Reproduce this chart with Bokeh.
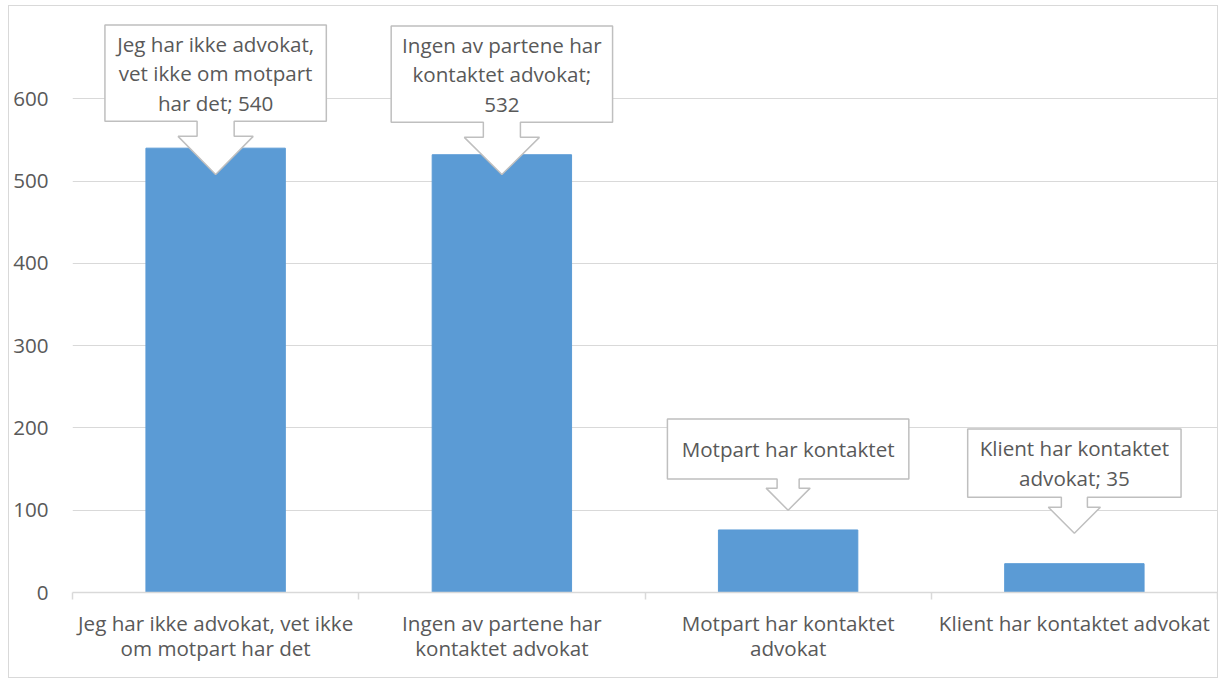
import numpy as np
from bokeh.plotting import figure
from bokeh.models import Range1d, FixedTicker
from bokeh.core.properties import value
from bokeh.embed import file_html
from bokeh.resources import INLINE

# ---- data ----
categories = [
    "Jeg har ikke advokat, vet ikke om motpart har det",
    "Ingen av partene har kontaktet advokat",
    "Motpart har kontaktet advokat",
    "Klient har kontaktet advokat",
]
tick_labels = [
    "Jeg har ikke advokat, vet ikke\nom motpart har det",
    "Ingen av partene har\nkontaktet advokat",
    "Motpart har kontaktet\nadvokat",
    "Klient har kontaktet advokat",
]
counts = [540, 532, 76, 35]
y_ticks = [0, 100, 200, 300, 400, 500, 600]

callout_text = [
    f"Jeg har ikke advokat,\nvet ikke om motpart\nhar det; {counts[0]}",
    f"Ingen av partene har\nkontaktet advokat;\n{counts[1]}",
    "Motpart har kontaktet",
    f"Klient har kontaktet\nadvokat; {counts[3]}",
]

# ---- callout layout (tip value in data units, geometry in px) ----
callout_tip = [508, 508, 100, 72]
callout_w = [221, 221, 241, 213]
callout_top = [149, 148, 91, 104]
callout_bot = [53, 52, 31, 36]
callout_stem = [18.5, 18.5, 11, 13]
callout_wingy = [38, 37, 22, 26]
callout_wing = [37.5, 37.5, 22, 26]

TEXT = "#595959"
GRID = "#d9d9d9"
FONT = "Open Sans"
FS = "20.6px"

W, H = 1210, 673
ML, MR, MT, MB = 63, 2, 10, 87
YMAX = 700
n = len(categories)

p = figure(width=W, height=H, output_backend="svg", toolbar_location=None,
           x_range=Range1d(0, n), y_range=Range1d(0, YMAX),
           min_border_left=ML, min_border_right=MR,
           min_border_top=MT, min_border_bottom=MB)
p.styles = {"border": "1px solid #d9d9d9", "margin-left": "8px", "margin-top": "5px"}
p.outline_line_color = None
p.background_fill_color = "white"
p.border_fill_color = "white"

fw = W - 2 - ML - MR
fh = H - 2 - MT - MB
pxx = fw / n
pxy = fh / YMAX

xs = np.arange(n) + 0.5
p.vbar(x=xs, top=counts, bottom=0, width=0.487, color="#5B9BD5")

# axes
p.xgrid.visible = False
p.ygrid.ticker = FixedTicker(ticks=[t for t in y_ticks if t > 0])
p.ygrid.grid_line_color = GRID
p.ygrid.grid_line_width = 1

p.yaxis.ticker = FixedTicker(ticks=y_ticks)
p.yaxis.axis_line_color = None
p.yaxis.major_tick_line_color = None
p.yaxis.major_tick_out = 0
p.yaxis.major_tick_in = 0
p.yaxis.minor_tick_line_color = None
p.yaxis.major_label_standoff = 24
p.yaxis.major_label_text_font = FONT
p.yaxis.major_label_text_font_size = FS
p.yaxis.major_label_text_color = TEXT

p.xaxis.ticker = FixedTicker(ticks=list(xs), minor_ticks=list(range(n + 1)))
p.xaxis.major_label_overrides = {float(x): lab for x, lab in zip(xs, tick_labels)}
p.xaxis.axis_line_color = GRID
p.xaxis.axis_line_width = 1.5
p.xaxis.major_tick_line_color = None
p.xaxis.major_tick_out = 0
p.xaxis.major_tick_in = 0
p.xaxis.minor_tick_line_color = GRID
p.xaxis.minor_tick_line_width = 1.5
p.xaxis.minor_tick_out = 7
p.xaxis.minor_tick_in = 0
p.xaxis.major_label_standoff = 9
p.xaxis.major_label_text_font = FONT
p.xaxis.major_label_text_font_size = FS
p.xaxis.major_label_text_color = TEXT
p.xaxis.major_label_text_line_height = 0.9

# callouts
pxs, pys, tx, ty = [], [], [], []
for i in range(n):
    cx = xs[i]
    tip = callout_tip[i]
    hw = callout_w[i] / 2 / pxx
    sh = callout_stem[i] / pxx
    wh = callout_wing[i] / pxx
    top = tip + callout_top[i] / pxy
    bot = tip + callout_bot[i] / pxy
    wy = tip + callout_wingy[i] / pxy
    pxs.append([cx - hw, cx + hw, cx + hw, cx + sh, cx + sh, cx + wh, cx,
                cx - wh, cx - sh, cx - sh, cx - hw])
    pys.append([top, top, bot, bot, wy, wy, tip, wy, wy, bot, bot])
    tx.append(cx)
    ty.append((top + bot) / 2)

p.patches(xs=pxs, ys=pys, fill_color="white", line_color="#bfbfbf", line_width=1.5)
p.text(x=tx, y=ty, text=callout_text, text_align="center", text_baseline="middle",
       text_font=value(FONT), text_font_size=FS, text_color=TEXT,
       text_line_height=1.05)

open("out.html", "w").write(file_html(p, INLINE))
